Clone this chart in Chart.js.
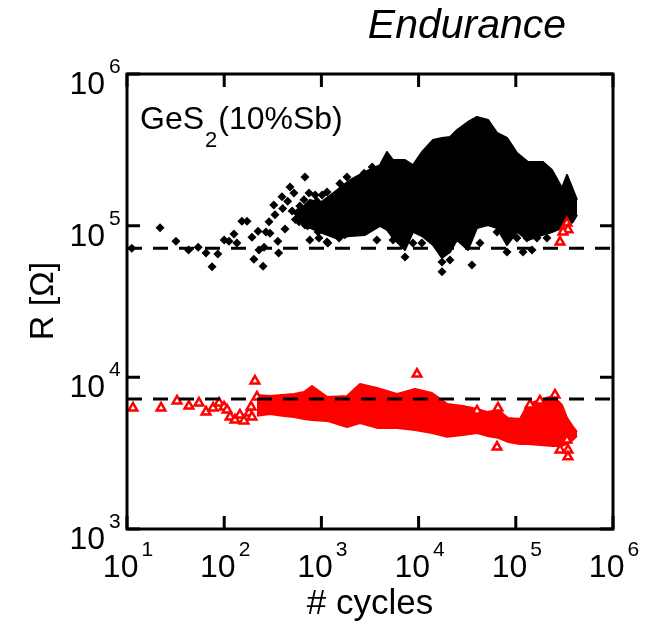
<!DOCTYPE html>
<html>
<head>
<meta charset="utf-8">
<script src="https://cdn.jsdelivr.net/npm/chart.js@4.4.1/dist/chart.umd.min.js"></script>
<style>
  html, body { margin: 0; padding: 0; background: #fff; }
  #wrap { width: 654px; height: 621px; }
</style>
</head>
<body>
<div id="wrap"><canvas id="endurance" width="654" height="621"></canvas></div>
<script>
// Tick exponents (labels are 10^n)
const xTickExps = [1, 2, 3, 4, 5, 6];
const yTickExps = [3, 4, 5, 6];

// Dashed reference levels [Ohm]
const levelHigh = 7.1e4;
const levelLow = 7.2e3;

// Dense part of the high-resistance cloud: outline
const blackBandCycles = [603, 764, 967, 1380, 1970, 2810, 4010, 4730, 5450, 7250, 8760, 10840, 14070, 17400, 21040, 24840,
  32240, 39880, 51760, 64060, 81200, 102900, 133500, 190500, 235700, 298800, 336300, 387700, 426300];
const blackBandTop = [1.27e5, 1.48e5, 1.41e5, 1.67e5, 2.0e5, 2.26e5, 2.51e5, 3.06e5, 2.71e5, 2.71e5, 2.51e5, 3.06e5, 3.67e5, 3.79e5,
  3.84e5, 4.27e5, 4.83e5, 5.21e5, 4.98e5, 4.09e5, 3.79e5, 3.01e5, 2.63e5, 2.63e5, 2.33e5, 1.77e5, 2.16e5, 1.72e5, 1.48e5];
const blackBandBottom = [1.06e5, 9.66e4, 9.09e4, 8.3e4, 8.55e4, 8.69e4, 9.95e4, 9.37e4, 8.3e4, 6.92e4, 9.09e4, 8.55e4, 7.46e4, 6.13e4,
  6.71e4, 8.05e4, 6.92e4, 9.66e4, 1.01e5, 9.66e4, 7.46e4, 9.09e4, 8.05e4, 8.69e4, 9.09e4, 9.66e4, 9.95e4, 1.06e5, 1.18e5];

// Single high-resistance points [cycles, R]
const blackPoints = [
  [11.2, 7.1e4], [21.9, 9.7e4], [31.9, 7.9e4], [43, 6.9e4], [54, 7.2e4], [65, 6.6e4], [75, 5.35e4], [86, 6.5e4],
  [100, 8.05e4], [112, 7.9e4], [126, 8.8e4], [135, 7.7e4], [152, 1.07e5], [172, 1.07e5], [193, 8.4e4], [202, 6.0e4],
  [223, 9.2e4], [228, 6.9e4], [251, 5.4e4], [257, 7.2e4], [269, 9.1e4], [289, 1.06e5], [296, 8.9e4], [324, 1.37e5],
  [333, 1.18e5], [356, 7.9e4], [363, 6.6e4], [393, 1.55e5], [422, 9.5e4], [475, 1.8e5], [522, 1.64e5], [562, 1.21e5],
  [588, 1.06e5], [661, 1.48e5], [677, 2.09e5], [746, 1.64e5], [760, 8.05e4], [943, 8.3e4], [1142, 7.8e4],
  [1142, 1.67e5], [1550, 1.9e5], [1830, 2.09e5], [1520, 8.3e4], [1740, 8.7e4], [2750, 2.22e5], [3330, 2.44e5],
  [2960, 9.4e4], [3720, 8.05e4],
  [400, 1.3e5], [450, 1.45e5], [500, 1.25e5], [540, 1.1e5], [600, 1.35e5], [620, 1.15e5], [700, 1.25e5],
  [720, 1.0e5], [800, 1.3e5], [850, 1.1e5], [900, 1.45e5], [950, 1.2e5],
  [603, 1.27e5], [677, 1.01e5], [796, 1.18e5], [862, 1.59e5], [925, 9.09e4], [1016, 1.59e5], [1165, 7.7e4],
  [7250, 6.22e4], [17400, 4.96e4], [17400, 5.77e4], [21000, 5.94e4], [35400, 5.51e4], [81200, 6.71e4],
  [118600, 6.71e4], [146800, 6.92e4], [5460, 8.05e4], [6900, 8.69e4], [8750, 7.7e4], [10800, 7.7e4],
  [102800, 8.3e4], [130000, 8.3e4], [165000, 8.3e4], [209000, 8.3e4], [26700, 8.4e4], [42800, 7.7e4], [64100, 9.1e4]
];

// Dense part of the low-resistance cloud
const redBandCycles = [217.5, 296, 393, 523, 662, 800, 1142, 1834, 2495, 3733, 5995, 9183, 13740, 19600, 28630,
  39880, 50530, 65600, 83130, 110500, 133500, 177400, 241400, 298800, 336300, 387700, 426300];
const redBandTop = [7.66e3, 7.54e3, 7.66e3, 7.77e3, 8.01e3, 8.77e3, 7.43e3, 7.54e3, 9.05e3, 8.51e3, 7.77e3, 8.39e3,
  7.89e3, 6.68e3, 6.48e3, 6.19e3, 5.91e3, 6.1e3, 5.4e3, 5.32e3, 6.68e3, 7.1e3, 7.54e3, 6.58e3, 5.4e3, 4.71e3, 4.37e3];
const redBandBottom = [5.57e3, 5.74e3, 5.57e3, 5.48e3, 5.32e3, 5.24e3, 5.16e3, 4.71e3, 5.0e3, 4.64e3, 4.64e3, 4.5e3,
  4.3e3, 4.05e3, 4.17e3, 4.3e3, 4.11e3, 3.99e3, 3.75e3, 3.64e3, 3.64e3, 3.58e3, 3.53e3, 3.53e3, 3.64e3, 3.87e3, 4.11e3];

// Single low-resistance points [cycles, R]
const redPoints = [
  [11.5, 6.28e3], [22.4, 6.28e3], [32.7, 6.99e3], [43.4, 6.47e3], [55, 6.78e3], [65, 5.91e3], [76.8, 6.28e3],
  [88.5, 6.78e3], [99.6, 6.38e3], [107, 6.09e3], [115, 5.48e3], [129, 5.24e3], [145, 5.65e3], [160, 5.16e3],
  [180, 5.82e3], [193, 5.48e3], [207, 9.46e3], [189, 6.38e3], [217, 7.43e3],
  [9640, 1.05e4], [39900, 6.0e3], [65600, 6.28e3], [140000, 6.58e3], [177000, 6.99e3], [253000, 7.66e3],
  [64100, 3.47e3], [285000, 3.32e3], [344000, 3.32e3], [344000, 2.99e3], [336000, 3.86e3],
  [285000, 7.8e4], [321000, 9.8e4], [336000, 1.04e5], [344000, 9.4e4], [306000, 9.1e4]
];

const FONT = '"Liberation Sans", Arial, Helvetica, sans-serif';

function toXY(xs, ys) {
  return xs.map((x, i) => ({ x: x, y: ys[i] }));
}

function bandEdge(data, color, order, fill) {
  return {
    type: 'line',
    data: data,
    borderColor: color,
    borderWidth: 2,
    borderJoinStyle: 'round',
    backgroundColor: color,
    pointRadius: 0,
    tension: 0,
    fill: fill,
    order: order
  };
}

/**
 * Frame, inward ticks and all text
 */
const framePlugin = {
  id: 'frame',
  afterDraw(chart) {
    const ctx = chart.ctx;
    const { left, top, right, bottom } = chart.chartArea;
    const xs = chart.scales.x;
    const ys = chart.scales.y;
    const tickLen = 13;

    ctx.save();
    ctx.strokeStyle = '#000';
    ctx.fillStyle = '#000';
    ctx.lineWidth = 3;
    ctx.strokeRect(left, top, right - left, bottom - top);

    ctx.beginPath();
    xTickExps.forEach(e => {
      const px = xs.getPixelForValue(Math.pow(10, e));
      ctx.moveTo(px, bottom); ctx.lineTo(px, bottom - tickLen);
      ctx.moveTo(px, top); ctx.lineTo(px, top + tickLen);
    });
    yTickExps.forEach(e => {
      const py = ys.getPixelForValue(Math.pow(10, e));
      ctx.moveTo(left, py); ctx.lineTo(left + tickLen, py);
      ctx.moveTo(right, py); ctx.lineTo(right - tickLen, py);
    });
    ctx.stroke();

    // x tick labels: 10 with superscript exponent
    ctx.textBaseline = 'alphabetic';
    ctx.textAlign = 'left';
    xTickExps.forEach(e => {
      const px = xs.getPixelForValue(Math.pow(10, e));
      ctx.font = '32px ' + FONT;
      const wb = ctx.measureText('10').width;
      ctx.font = '21px ' + FONT;
      const ws = ctx.measureText(String(e)).width;
      const sx = px - (wb + 3 + ws) / 2 + 1;
      ctx.font = '32px ' + FONT;
      ctx.fillText('10', sx, bottom + 48);
      ctx.font = '21px ' + FONT;
      ctx.fillText(String(e), sx + wb + 3, bottom + 27);
    });

    // y tick labels
    yTickExps.forEach(e => {
      const py = ys.getPixelForValue(Math.pow(10, e));
      ctx.font = '32px ' + FONT;
      ctx.textAlign = 'right';
      ctx.fillText('10', left - 22, py + 20);
      ctx.font = '21px ' + FONT;
      ctx.textAlign = 'left';
      ctx.fillText(String(e), left - 18, py - 1);
    });

    // title
    ctx.font = 'italic 41px ' + FONT;
    ctx.textAlign = 'center';
    ctx.fillText('Endurance', 467, 38);

    // axis titles
    ctx.font = '35px ' + FONT;
    ctx.fillText('# cycles', 370, 614);
    ctx.save();
    ctx.translate(53, 301);
    ctx.rotate(-Math.PI / 2);
    ctx.font = '34px ' + FONT;
    ctx.fillText('R [\u03A9]', 0, 0);
    ctx.restore();

    // sample label GeS2(10%Sb)
    ctx.textAlign = 'left';
    ctx.font = '32px ' + FONT;
    let tx = left + 13;
    ctx.fillText('GeS', tx, 129);
    tx += ctx.measureText('GeS').width + 1;
    ctx.font = '22px ' + FONT;
    ctx.fillText('2', tx, 147);
    tx += ctx.measureText('2').width + 1;
    ctx.font = '32px ' + FONT;
    ctx.fillText('(10%Sb)', tx, 129);

    ctx.restore();
  }
};

document.addEventListener('DOMContentLoaded', function() {
  const ctx = document.getElementById('endurance').getContext('2d');
  new Chart(ctx, {
    type: 'scatter',
    data: {
      datasets: [
        // 0,1: black band, 2,3: red band
        bandEdge(toXY(blackBandCycles, blackBandTop), '#000', 5, false),
        bandEdge(toXY(blackBandCycles, blackBandBottom), '#000', 5, '-1'),
        bandEdge(toXY(redBandCycles, redBandTop), '#ff0000', 2, false),
        bandEdge(toXY(redBandCycles, redBandBottom), '#ff0000', 2, '-1'),
        {
          label: 'high',
          data: blackPoints.map(p => ({ x: p[0], y: p[1] })),
          pointStyle: 'rectRot',
          pointRadius: 4.5,
          backgroundColor: '#000',
          borderColor: '#000',
          borderWidth: 0,
          order: 4
        },
        {
          label: 'low',
          data: redPoints.map(p => ({ x: p[0], y: p[1] })),
          pointStyle: 'triangle',
          pointRadius: 5,
          backgroundColor: '#fff',
          borderColor: '#ff0000',
          borderWidth: 2.5,
          order: 1
        },
        {
          type: 'line',
          data: [{ x: 10, y: levelHigh }, { x: 1e6, y: levelHigh }],
          borderColor: '#000',
          borderWidth: 3,
          borderDash: [15, 11],
          pointRadius: 0,
          fill: false,
          order: 0
        },
        {
          type: 'line',
          data: [{ x: 10, y: levelLow }, { x: 1e6, y: levelLow }],
          borderColor: '#000',
          borderWidth: 3,
          borderDash: [15, 11],
          pointRadius: 0,
          fill: false,
          order: 0
        }
      ]
    },
    options: {
      responsive: false,
      animation: false,
      devicePixelRatio: 1,
      layout: { padding: { left: 127, top: 74, right: 41, bottom: 92 } },
      plugins: {
        legend: { display: false },
        tooltip: { enabled: false }
      },
      scales: {
        x: { type: 'logarithmic', min: 10, max: 1e6, display: false },
        y: { type: 'logarithmic', min: 1e3, max: 1e6, display: false }
      }
    },
    plugins: [framePlugin]
  });
});
</script>
</body>
</html>
